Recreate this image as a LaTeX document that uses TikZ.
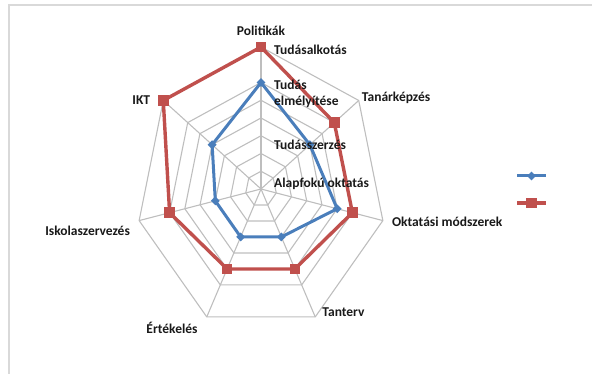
\documentclass[tikz,border=0pt]{standalone}
\usepackage{fontspec}
\setmainfont{Carlito}
\usetikzlibrary{shapes.geometric,positioning,calc}
\definecolor{gridgray}{RGB}{190,190,190}
\definecolor{framegray}{RGB}{217,217,217}
\definecolor{seriesblue}{RGB}{74,126,187}
\definecolor{seriesred}{RGB}{192,80,77}
\tikzset{grid line/.style={draw=gridgray, line width=1.1pt}}
\tikzset{axis label/.style={font=\bfseries\fontsize{13.5}{15.5}\selectfont, inner sep=0pt, text=black!90}}
\tikzset{blue series/.style={draw=seriesblue, line width=3pt, line join=round}}
\tikzset{red series/.style={draw=seriesred, line width=3.4pt, line join=round}}
\tikzset{blue mark/.style={diamond, fill=seriesblue, inner sep=0pt, minimum size=9pt}}
\tikzset{red mark/.style={rectangle, fill=seriesred, inner sep=0pt, minimum size=10.5pt}}

\begin{document}
\begin{tikzpicture}[x=1pt, y=1pt]
\useasboundingbox (0,0) rectangle (592,-374);
\draw[draw=framegray, line width=1.6pt] (9,-374) -- (9,-5) -- (592,-5);

\begin{scope}[shift={(261,-189)}, x=15.625pt, y=17.75pt]
% rings and spokes
\foreach \k in {1,2,3,4,5,6,8}
  \draw[grid line] (90:\k) \foreach \i in {1,...,6} {-- (90-\i*360/7:\k)} -- cycle;
\foreach \i in {0,...,6} {
  \coordinate (o\i) at (90-\i*360/7:8);
  \draw[grid line] (0,0) -- (o\i);
}
% data
\foreach \v [count=\i from 0] in {6,4,5,3,3,3,4}
  \coordinate (b\i) at (90-\i*360/7:\v);
\foreach \v [count=\i from 0] in {8,6,6,5,5,6,8}
  \coordinate (r\i) at (90-\i*360/7:\v);
\draw[red series] (r0) -- (r1) -- (r2) -- (r3) -- (r4) -- (r5) -- (r6) -- cycle;
\draw[blue series] (b0) -- (b1) -- (b2) -- (b3) -- (b4) -- (b5) -- (b6) -- cycle;
\foreach \i in {0,...,6} {
  \node[red mark] (rm\i) at (r\i) {};
  \node[blue mark] (bm\i) at (b\i) {};
}
\end{scope}

% axis names
\node[axis label, above=11pt of o0] (polit) {Politikák};
\node[axis label, right=3pt of o1, yshift=3pt] (tanark) {Tanárképzés};
\node[axis label, right=9pt of o2, yshift=-1pt] (oktmod) {Oktatási módszerek};
\node[axis label, above right=0pt and 7pt of o3] (tanterv) {Tanterv};
\node[axis label, below left=5pt and 9pt of o4] (ertek) {Értékelés};
\node[axis label, below left=5pt and 9pt of o5] (iskola) {Iskolaszervezés};
\node[axis label, left=13pt of o6] (ikt) {IKT};

% level names
\node[axis label, anchor=west] (tudalk) at (274,-50) {Tudásalkotás};
\node[axis label, anchor=west, align=left] (tudelm) at (274,-94) {Tudás\\elmélyítése};
\node[axis label, anchor=west] (tudszer) at (274,-145) {Tudásszerzés};
\node[axis label, anchor=west] (alapf) at (274,-184) {Alapfokú oktatás};

% legend
\coordinate (lb1) at (517,-176);
\coordinate (lb2) at (546,-176);
\coordinate (lr1) at (517,-203);
\coordinate (lr2) at (546,-203);
\draw[blue series] (lb1) -- (lb2);
\node[blue mark] (legb) at ($(lb1)!0.5!(lb2)$) {};
\draw[red series] (lr1) -- (lr2);
\node[red mark] (legr) at ($(lr1)!0.5!(lr2)$) {};
\end{tikzpicture}
\end{document}
